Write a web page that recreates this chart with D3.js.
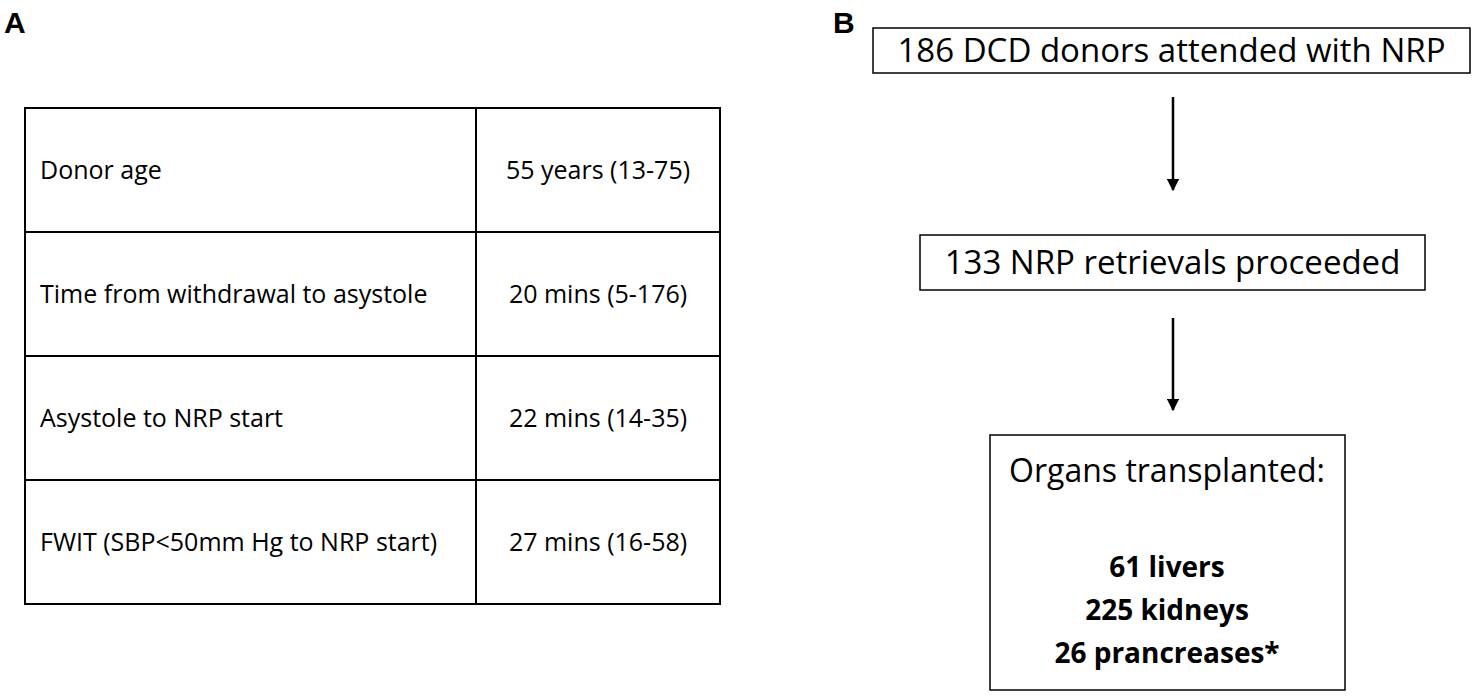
<!DOCTYPE html>
<html><head><meta charset="utf-8">
<script src="https://cdn.jsdelivr.net/npm/d3@7"></script>
<style>body{margin:0;background:#fff}</style></head>
<body><svg id="c" width="1477" height="699"></svg>
<script>
const tableLabels = ["Donor age","Time from withdrawal to asystole","Asystole to NRP start","FWIT (SBP<50mm Hg to NRP start)"];
const tableValues = ["55 years (13-75)","20 mins (5-176)","22 mins (14-35)","27 mins (16-58)"];
const flowSteps = ["186 DCD donors attended with NRP","133 NRP retrievals proceeded"];
const organTitle = "Organs transplanted:";
const organLines = ["61 livers","225 kidneys","26 prancreases*"];

const svg = d3.select("#c");
const font = "'Open Sans', 'Liberation Sans', sans-serif";
svg.append("text").attr("x",4).attr("y",33).attr("font-family","Liberation Sans, Arial").attr("font-weight","bold").attr("font-size",30).text("A");
svg.append("text").attr("x",833).attr("y",33).attr("font-family","Liberation Sans, Arial").attr("font-weight","bold").attr("font-size",30).text("B");

const y = d3.scaleBand().domain(d3.range(tableLabels.length)).range([108,604]);
const x0 = 25, xm = 476, x1 = 720;
const g = svg.append("g");
g.append("rect").attr("x",x0).attr("y",108).attr("width",x1-x0).attr("height",496).attr("fill","none").attr("stroke","#000").attr("stroke-width",2);
g.append("line").attr("x1",xm).attr("x2",xm).attr("y1",108).attr("y2",604).attr("stroke","#000").attr("stroke-width",2);
tableLabels.forEach((l,i)=>{
  if(i>0) g.append("line").attr("x1",x0).attr("x2",x1).attr("y1",y(i)).attr("y2",y(i)).attr("stroke","#000").attr("stroke-width",2);
  g.append("text").attr("x",40).attr("y",y(i)+y.bandwidth()/2).attr("dy","0.35em").attr("font-family",font).attr("font-size",25).attr("textLength",null).text(l);
  g.append("text").attr("x",(xm+x1)/2).attr("y",y(i)+y.bandwidth()/2).attr("dy","0.35em").attr("text-anchor","middle").attr("font-family",font).attr("font-size",25).text(tableValues[i]);
});

svg.append("defs").append("marker").attr("id","ar").attr("viewBox","0 0 10 10").attr("refX",9).attr("refY",5)
  .attr("markerWidth",5).attr("markerHeight",5).attr("orient","auto").append("path").attr("d","M0,0L10,5L0,10z").attr("fill","#000");
const cx = 1173;
const boxes = [{x:873,y:28,w:597,h:45},{x:920,y:235,w:505,h:55}];
flowSteps.forEach((s,i)=>{
  const b = boxes[i];
  svg.append("rect").attr("x",b.x).attr("y",b.y).attr("width",b.w).attr("height",b.h).attr("fill","none").attr("stroke","#000").attr("stroke-width",1.5);
  svg.append("text").attr("x",b.x+b.w/2).attr("y",b.y+b.h/2).attr("dy","0.35em").attr("text-anchor","middle").attr("font-family",font).attr("font-size",33).text(s);
});
[[97,190],[318,410]].forEach(a=>svg.append("line").attr("x1",cx).attr("x2",cx).attr("y1",a[0]).attr("y2",a[1]).attr("stroke","#000").attr("stroke-width",2.5).attr("marker-end","url(#ar)"));
svg.append("rect").attr("x",990).attr("y",435).attr("width",355).attr("height",255).attr("fill","none").attr("stroke","#000").attr("stroke-width",1.5);
const cb = 1167;
svg.append("text").attr("x",cb).attr("y",482).attr("text-anchor","middle").attr("font-family",font).attr("font-size",32).text(organTitle);
organLines.forEach((t,i)=>svg.append("text").attr("x",cb).attr("y",577+i*43).attr("text-anchor","middle").attr("font-family",font).attr("font-weight","bold").attr("font-size",28).text(t));
</script></body></html>
